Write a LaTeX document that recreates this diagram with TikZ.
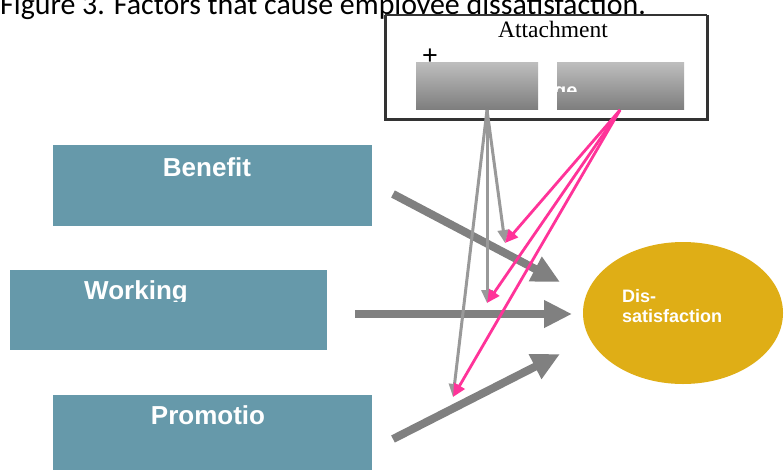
\documentclass[tikz,border=0pt]{standalone}
\usepackage{fontspec}
\setmainfont{Liberation Serif}
\newfontfamily\arialf{Liberation Sans}
\newfontfamily\calib{Carlito}
\usetikzlibrary{arrows.meta,shapes.geometric}
\definecolor{tealbox}{HTML}{6699AA}
\definecolor{goldell}{HTML}{DFAE16}
\definecolor{thickgray}{HTML}{808080}
\definecolor{thingray}{HTML}{999999}
\definecolor{pinkarr}{HTML}{FF3399}
\definecolor{frame}{HTML}{333333}
\definecolor{gtop}{HTML}{BEBEBE}
\definecolor{gbot}{HTML}{7E7E7E}
\tikzset{
  factorbox/.style={fill=tealbox, draw=none, inner sep=0pt, anchor=north west},
  factorlbl/.style={font=\arialf\bfseries\fontsize{26}{28}\selectfont, text=white, inner sep=0pt, anchor=base},
  gradbox/.style={top color=gtop, bottom color=gbot, draw=none, inner sep=0pt, anchor=north west, minimum height=47pt},
  bigarrow/.style={draw=thickgray, line width=8pt, -{Triangle[length=28pt,width=26pt]}},
  grayarrow/.style={draw=thingray, line width=3pt, -{Triangle[length=13pt,width=11pt]}},
  pinkarrow/.style={draw=pinkarr, line width=2.8pt, -{Triangle[length=13pt,width=12pt]}},
  dislbl/.style={font=\arialf\bfseries\fontsize{18}{20}\selectfont, text=white, inner sep=0pt, anchor=base west}
}
\begin{document}
\begin{tikzpicture}[x=1pt,y=-1pt]
\useasboundingbox (0,0) rectangle (784,469);
\fill[white] (0,0) rectangle (784,469);

% title (cut at the top)
\node[anchor=base west, inner sep=0pt, font=\calib\fontsize{29.9}{32}\selectfont] (title) at (0,14) {Figure 3. Factors that cause employee dissatisfaction.};

% factor boxes
\node[factorbox, minimum width=319pt, minimum height=81pt] (benefit) at (53,145) {};
\node[factorbox, minimum width=317pt, minimum height=80pt] (working) at (10,270) {};
\node[factorbox, minimum width=319pt, minimum height=80pt] (promotion) at (53,395) {};
\node[factorlbl] (benefitT) at (207,176) {Benefit};
\begin{scope}
  \clip (10,270) rectangle (327,301);
  \node[factorlbl] (workingT) at (136,299.5) {Working};
\end{scope}
\node[factorlbl] (promotionT) at (208,424) {Promotio};

% attachment frame
\node[draw=none, inner sep=0pt, anchor=north west, minimum width=322pt, minimum height=104pt] (att) at (385,15) {};
\fill[white] (att.north west) rectangle (att.south east);
\draw[frame, line width=1.5pt] (att.north west) -- (att.north east);
\draw[frame, line width=3pt] (att.north west) -- (att.south west) -- (att.south east) -- (att.north east);
\node[inner sep=0pt, anchor=base, font=\fontsize{23.5}{25}\selectfont] (attT) at (553,37) {Attachment};
\node[inner sep=0pt, font=\arialf\fontsize{27}{27}\selectfont] (plus) at (430,57) {+};
\node[gradbox, minimum width=122pt] (attL) at (416,62) {};
\node[gradbox, minimum width=127pt] (attR) at (557,62) {};
\begin{scope}
  \clip (557,62) rectangle (684,91.5);
  \node[inner sep=0pt, anchor=base west, text=white, font=\arialf\bfseries\fontsize{20}{20}\selectfont] (attRT) at (554,97) {ge};
\end{scope}

% dissatisfaction ellipse
\node[ellipse, fill=goldell, draw=none, inner sep=0pt, minimum width=200pt, minimum height=142pt] (dis) at (683,313) {};
\node[dislbl] (disT1) at (622,302) {Dis-};
\node[dislbl] (disT2) at (622,322) {satisfaction};

% thick arrows
\coordinate (b1s) at (393,194); \coordinate (b1e) at (560,282);
\coordinate (b2s) at (355,314); \coordinate (b2e) at (572,314);
\coordinate (b3s) at (393,439); \coordinate (b3e) at (560,354);
\draw[bigarrow] (b1s) -- (b1e);
\draw[bigarrow] (b2s) -- (b2e);
\draw[bigarrow] (b3s) -- (b3e);

% thin arrows
\coordinate (gsrc) at (487,110);
\coordinate (psrc) at (620,110);
\coordinate (t1) at (505,243);
\coordinate (t2) at (487,303);
\coordinate (t3) at (453,397);
\draw[grayarrow] (gsrc) -- (t1);
\draw[grayarrow] (gsrc) -- (t2);
\draw[grayarrow] (gsrc) -- (t3);
\draw[pinkarrow] (psrc) -- (t1);
\draw[pinkarrow] (psrc) -- (t2);
\draw[pinkarrow] (psrc) -- (t3);
\end{tikzpicture}
\end{document}
